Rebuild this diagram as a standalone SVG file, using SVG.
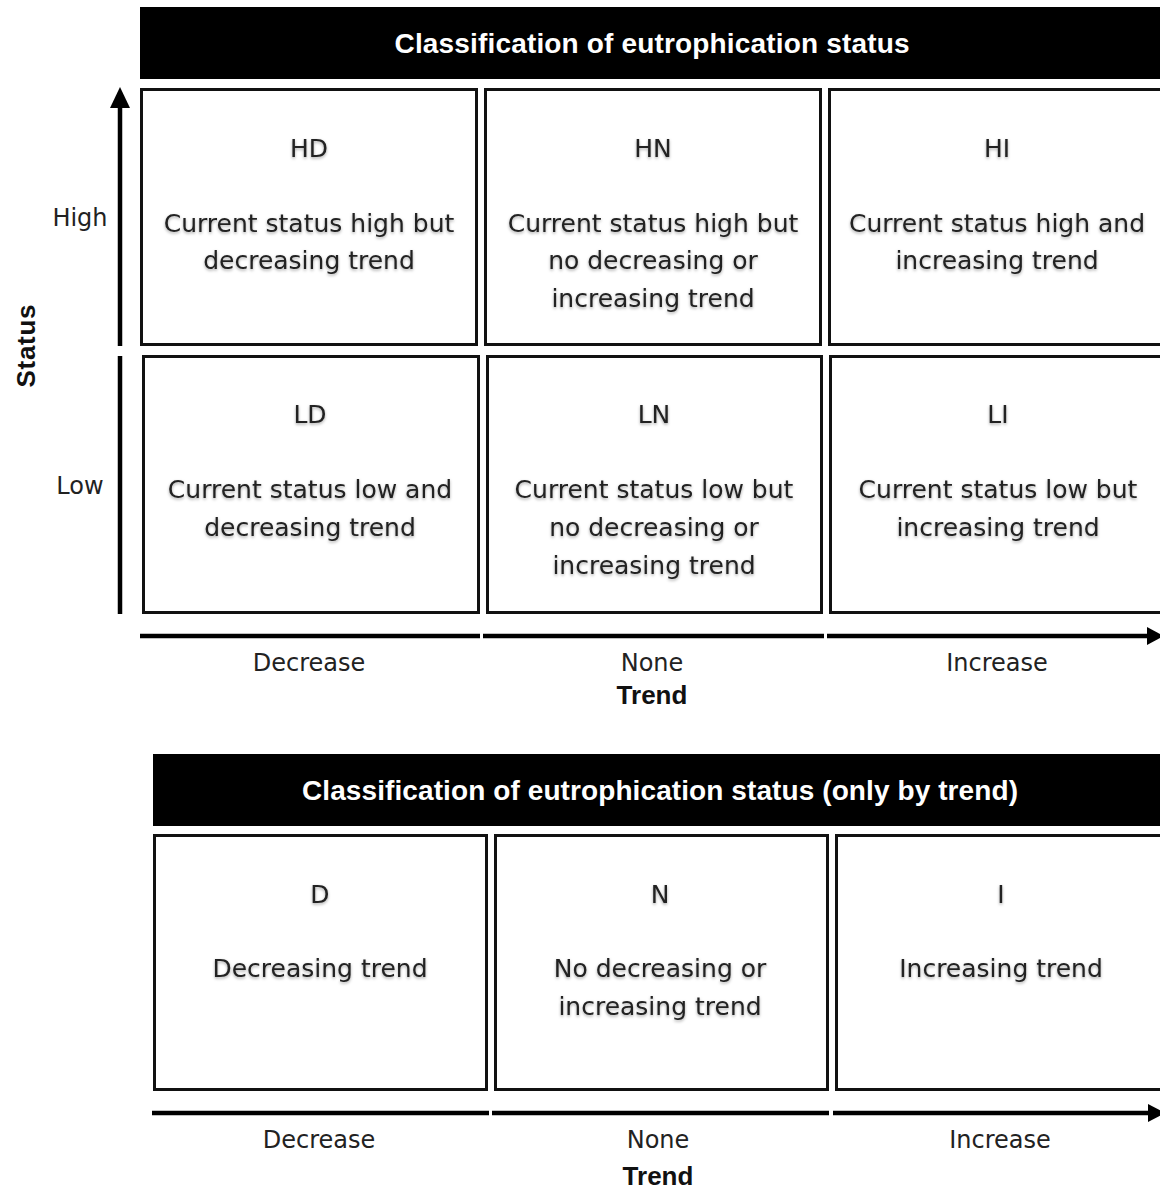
<svg xmlns="http://www.w3.org/2000/svg" width="1160" height="1191" viewBox="0 0 1160 1191">
<style>
.cell{fill:#fff;stroke:#111;stroke-width:3}
.hdr{fill:#000}
.ht{font-family:"Liberation Sans",Arial,sans-serif;font-weight:bold;font-size:28px;fill:#fff;text-anchor:middle}
.ct{font-family:"DejaVu Sans",sans-serif;font-size:25px;fill:#222;text-anchor:middle}
.sh{filter:url(#sh)}
.lb{font-family:"DejaVu Sans",sans-serif;font-size:24px;fill:#222;text-anchor:middle}
.bt{font-family:"Liberation Sans",Arial,sans-serif;font-weight:bold;font-size:26px;fill:#111;text-anchor:middle}
.ax{stroke:#000;stroke-width:4.5;fill:none}
.ah{fill:#000}
</style>
<defs>
<filter id="sh" x="-10%" y="-30%" width="120%" height="160%">
<feDropShadow dx="0" dy="1.5" stdDeviation="1.5" flood-color="#000" flood-opacity="0.35"/>
</filter>
</defs>
<rect width="1160" height="1191" fill="#fff"/>

<g id="header1">
<rect class="hdr" x="140" y="7" width="1030" height="72"/>
<text class="ht" x="652" y="53" textLength="515">Classification of eutrophication status</text>
</g>

<g id="cell-HD">
<rect class="cell" x="141.5" y="89.5" width="335" height="255"/>
<g class="ct sh"><text x="309" y="157">HD</text><text x="309" y="232">Current status high but</text><text x="309" y="269">decreasing trend</text></g>
</g>
<g id="cell-HN">
<rect class="cell" x="485.5" y="89.5" width="335" height="255"/>
<g class="ct sh"><text x="653" y="157">HN</text><text x="653" y="232">Current status high but</text><text x="653" y="269">no decreasing or</text><text x="653" y="307">increasing trend</text></g>
</g>
<g id="cell-HI">
<rect class="cell" x="829.5" y="89.5" width="340" height="255"/>
<g class="ct sh"><text x="997" y="157">HI</text><text x="997" y="232">Current status high and</text><text x="997" y="269">increasing trend</text></g>
</g>
<g id="cell-LD">
<rect class="cell" x="143.5" y="356.5" width="335" height="256"/>
<g class="ct sh"><text x="310" y="423">LD</text><text x="310" y="498">Current status low and</text><text x="310" y="536">decreasing trend</text></g>
</g>
<g id="cell-LN">
<rect class="cell" x="487.5" y="356.5" width="334" height="256"/>
<g class="ct sh"><text x="654" y="423">LN</text><text x="654" y="498">Current status low but</text><text x="654" y="536">no decreasing or</text><text x="654" y="574">increasing trend</text></g>
</g>
<g id="cell-LI">
<rect class="cell" x="830.5" y="356.5" width="340" height="256"/>
<g class="ct sh"><text x="998" y="423">LI</text><text x="998" y="498">Current status low but</text><text x="998" y="536">increasing trend</text></g>
</g>

<g id="labels1">
<text class="lb" x="80" y="226">High</text>
<text class="lb" x="80" y="494">Low</text>
<text class="bt" transform="translate(35 346) rotate(-90)" x="0" y="0" textLength="83">Status</text>
<text class="lb" x="309" y="671">Decrease</text>
<text class="lb" x="652" y="671">None</text>
<text class="lb" x="997" y="671">Increase</text>
<text class="bt" x="652" y="704">Trend</text>
</g>

<g id="header2">
<rect class="hdr" x="153" y="754" width="1017" height="72"/>
<text class="ht" x="660" y="800" textLength="716">Classification of eutrophication status (only by trend)</text>
</g>

<g id="cell-D">
<rect class="cell" x="154.5" y="835.5" width="332" height="254"/>
<g class="ct sh"><text x="320" y="903">D</text><text x="320" y="977">Decreasing trend</text></g>
</g>
<g id="cell-N">
<rect class="cell" x="495.5" y="835.5" width="332" height="254"/>
<g class="ct sh"><text x="660" y="903">N</text><text x="660" y="977">No decreasing or</text><text x="660" y="1015">increasing trend</text></g>
</g>
<g id="cell-I">
<rect class="cell" x="836.5" y="835.5" width="334" height="254"/>
<g class="ct sh"><text x="1001" y="903">I</text><text x="1001" y="977">Increasing trend</text></g>
</g>

<g id="labels2">
<text class="lb" x="319" y="1148">Decrease</text>
<text class="lb" x="658" y="1148">None</text>
<text class="lb" x="1000" y="1148">Increase</text>
<text class="bt" x="658" y="1185">Trend</text>
</g>

<g id="connectors">
<line class="ax" x1="120" y1="346" x2="120" y2="106"/>
<polygon class="ah" points="110,108 130,108 120,87"/>
<line class="ax" x1="120" y1="356" x2="120" y2="614"/>
<line class="ax" x1="140" y1="636" x2="480" y2="636"/>
<line class="ax" x1="483" y1="636" x2="824" y2="636"/>
<line class="ax" x1="827" y1="636" x2="1150" y2="636"/>
<polygon class="ah" points="1147,627 1164,636 1147,645"/>
<line class="ax" x1="152" y1="1113" x2="489" y2="1113"/>
<line class="ax" x1="492" y1="1113" x2="829" y2="1113"/>
<line class="ax" x1="833" y1="1113" x2="1150" y2="1113"/>
<polygon class="ah" points="1148,1104 1165,1113 1148,1122"/>
</g>
</svg>
